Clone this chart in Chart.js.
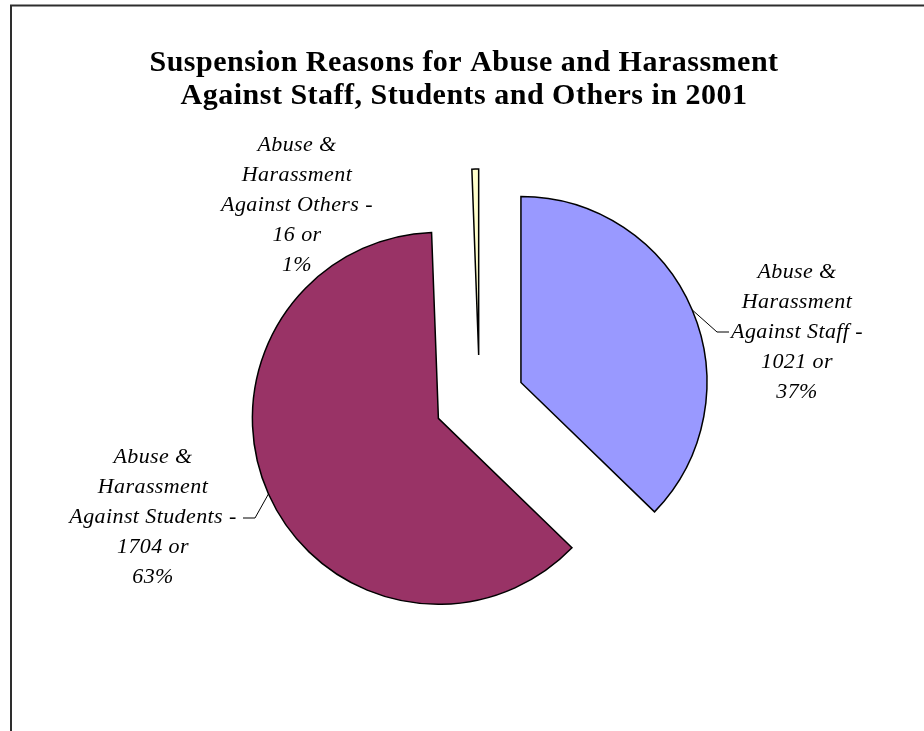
<!DOCTYPE html>
<html>
<head>
<meta charset="utf-8">
<title>Suspension Reasons 2001</title>
<script src="https://cdn.jsdelivr.net/npm/chart.js@4/dist/chart.umd.min.js"></script>
<style>
  html, body { margin: 0; padding: 0; background: #fff; }
  #wrap { position: relative; width: 924px; height: 731px; }
</style>
</head>
<body>
<div id="wrap"><canvas id="pie" width="924" height="731"></canvas></div>
<script>
/* ---- data ---- */
const groups   = ['Staff', 'Students', 'Others'];
const counts   = [1021, 1704, 16];
const percents = [37, 63, 1];
const colors   = ['#9999FF', '#993366', '#FFFFCC'];
const titleLines = [
  'Suspension Reasons for Abuse and Harassment',
  'Against Staff, Students and Others in 2001',
];

/* ---- look ---- */
const EXPLODE     = 45;     // slice pull-out, px
const RADIUS      = 186;
const SERIF       = '"Liberation Serif", "Times New Roman", serif';
const TITLE_FONT  = 'bold 30px ' + SERIF;
const LABEL_FONT  = 'italic 22px ' + SERIF;
const LINE_GAP    = 30;

/* label block: centre x, first line y, optional leader line */
const labelLayout = [
  { x: 797, y: 272, leader: { elbowX: 717, endX: 729, y: 332 } },
  { x: 153, y: 457, leader: { elbowX: 255, endX: 243, y: 518 } },
  { x: 297, y: 145, leader: null },
];

function labelText(i) {
  return [
    'Abuse &',
    'Harassment',
    `Against ${groups[i]} -`,
    `${counts[i]} or`,
    `${percents[i]}%`,
  ];
}

/* outer frame (top + left rule) and the two-line title */
const framePlugin = {
  id: 'frame',
  beforeDraw(chart) {
    const ctx = chart.ctx;
    ctx.save();
    ctx.strokeStyle = '#2e2e2e';
    ctx.lineWidth = 2;
    ctx.beginPath();
    ctx.moveTo(11, chart.height);
    ctx.lineTo(11, 5.5);
    ctx.lineTo(chart.width, 5.5);
    ctx.stroke();

    ctx.font = TITLE_FONT;
    ctx.letterSpacing = '0.5px';
    ctx.fillStyle = '#000';
    ctx.textAlign = 'center';
    ctx.textBaseline = 'middle';
    titleLines.forEach((t, k) => ctx.fillText(t, 464, 63 + k * 33));
    ctx.restore();
  }
};

/* draw every slice pulled out along its own mid angle */
const explodePlugin = {
  id: 'explode',
  beforeDatasetDraw(chart, args) {
    const ctx = chart.ctx;
    args.meta.data.forEach(arc => {
      const mid = (arc.startAngle + arc.endAngle) / 2;
      ctx.save();
      ctx.translate(Math.cos(mid) * EXPLODE, Math.sin(mid) * EXPLODE);
      arc.draw(ctx);
      ctx.restore();
    });
    return false;
  }
};

const sliceLabelPlugin = {
  id: 'sliceLabels',
  afterDatasetsDraw(chart) {
    const ctx  = chart.ctx;
    const arcs = chart.getDatasetMeta(0).data;
    ctx.save();
    ctx.font = LABEL_FONT;
    ctx.letterSpacing = '0.4px';
    ctx.fillStyle = '#000';
    ctx.strokeStyle = '#000';
    ctx.lineWidth = 1;
    ctx.textAlign = 'center';
    ctx.textBaseline = 'middle';
    arcs.forEach((arc, i) => {
      const pos = labelLayout[i];
      labelText(i).forEach((t, k) => ctx.fillText(t, pos.x, pos.y + k * LINE_GAP));
      if (pos.leader) {
        const mid = (arc.startAngle + arc.endAngle) / 2;
        const r   = arc.outerRadius + EXPLODE;
        ctx.beginPath();
        ctx.moveTo(arc.x + Math.cos(mid) * r, arc.y + Math.sin(mid) * r);
        ctx.lineTo(pos.leader.elbowX, pos.leader.y);
        ctx.lineTo(pos.leader.endX, pos.leader.y);
        ctx.stroke();
      }
    });
    ctx.restore();
  }
};

new Chart(document.getElementById('pie'), {
  type: 'pie',
  data: {
    labels: groups.map(g => 'Abuse & Harassment Against ' + g),
    datasets: [{
      data           : counts,
      backgroundColor: colors,
      borderColor    : '#000',
      borderWidth    : 1.5,
      borderJoinStyle: 'miter',
      radius         : RADIUS,
    }],
  },
  options: {
    responsive: false,
    animation : false,
    events    : [],
    layout    : { padding: { left: 35, top: 69, right: 0, bottom: 0 } },
    plugins   : {
      legend : { display: false },
      tooltip: { enabled: false },
    },
  },
  plugins: [framePlugin, explodePlugin, sliceLabelPlugin],
});
</script>
</body>
</html>
